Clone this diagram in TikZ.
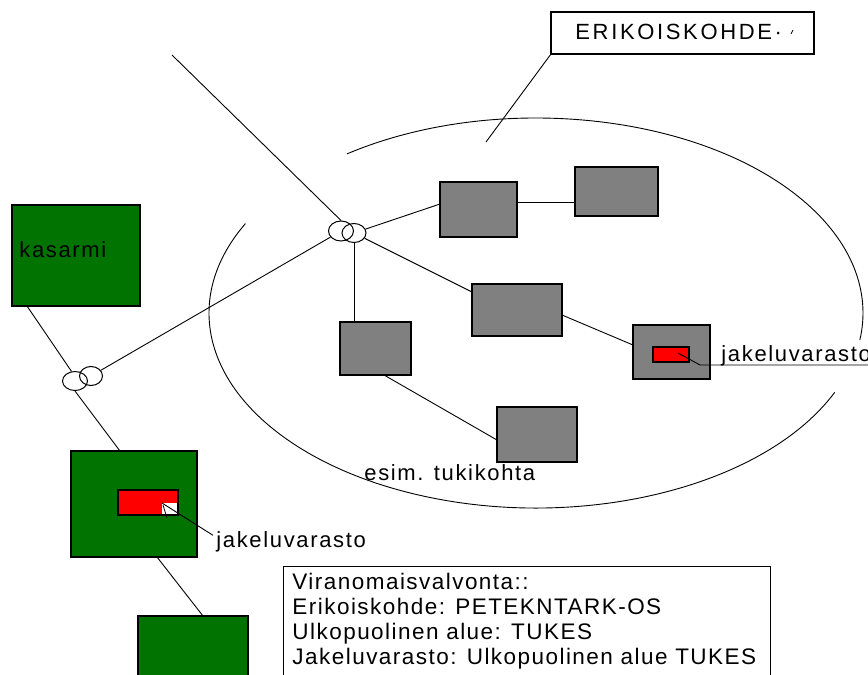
\documentclass[tikz,border=0pt]{standalone}
\usepackage{fontspec}
\setmainfont{Liberation Sans}
\newfontfamily\lsA{Liberation Sans}[LetterSpace=7.5]
\newfontfamily\lsB{Liberation Sans}[LetterSpace=6.5]
\newfontfamily\lsC{Liberation Sans}[LetterSpace=12]
\usetikzlibrary{calc,shapes.geometric}
\definecolor{grn}{RGB}{0,115,0}
\definecolor{gry}{RGB}{128,128,128}
\begin{document}
\begin{tikzpicture}[x=1pt,y=-1pt,line width=0.9pt,
  box/.style={draw=black,inner sep=0pt,outer sep=0pt,anchor=north west,line width=1.2pt},
  grnbox/.style={box,fill=grn},
  grybox/.style={box,fill=gry},
  redbox/.style={box,fill=red},
  hub/.style={draw=black,ellipse,inner sep=0pt,line width=1pt},
  lbl/.style={inner sep=0pt,anchor=base west,font=\lsA\fontsize{22}{25}\selectfont},
  txt/.style={inner sep=0pt,anchor=base west,font=\lsB\fontsize{22.5}{25}\selectfont}]
\useasboundingbox (0,0) rectangle (868,675);
% ellipse
\draw (536,313) ++(234.7:327 and 195) arc[start angle=234.7,end angle=368,x radius=327,y radius=195];
\draw (536,313) ++(24:327 and 195) arc[start angle=24,end angle=207.3,x radius=327,y radius=195];
% top label
\node[box,minimum width=263pt,minimum height=42pt] (erik) at (551,12) {};
\node[lbl,font=\lsC\fontsize{22}{25}\selectfont] (erikt) at (575,39) {ERIKOISKOHDE·};
\draw[line width=0.8pt] (791,34) -- (793,30);
\coordinate (epoint) at (486,142);
\draw (erik.south west) -- (epoint);
% kasarmi
\node[grnbox,minimum width=128pt,minimum height=101pt] (kas) at (12,205) {};
\node[lbl] (kast) at (19,257) {kasarmi};
% hubs
\node[hub,minimum width=25pt,minimum height=19pt] (c1) at (75,381) {};
\node[hub,minimum width=23pt,minimum height=19pt] (c2) at (91,376) {};
\node[hub,minimum width=25pt,minimum height=20pt] (h1) at (341,231) {};
\node[hub,minimum width=24pt,minimum height=19pt] (h2) at (354,233) {};
\coordinate (topend) at (172,55);
% gray boxes
\node[grybox,minimum width=77pt,minimum height=55pt] (A) at (440,182) {};
\node[grybox,minimum width=83pt,minimum height=49pt] (B) at (575,167) {};
\node[grybox,minimum width=90pt,minimum height=52pt] (C) at (472,284) {};
\node[grybox,minimum width=71pt,minimum height=53pt] (D) at (340,322) {};
\node[grybox,line width=2.4pt,minimum width=80pt,minimum height=55pt] (E) at (497,407) {};
\node[grybox,minimum width=77pt,minimum height=54pt] (F) at (633,325) {};
\node[redbox,minimum width=36pt,minimum height=15pt] (Fr) at (653,347) {};
% green boxes
\node[grnbox,minimum width=126pt,minimum height=106pt] (g2) at (71,451) {};
\node[redbox,minimum width=60pt,minimum height=25pt] (g2r) at (118,490) {};
\node[box,fill=white,line width=0pt,draw=none,minimum width=15pt,minimum height=11pt] (g2w) at (162,503) {};
\node[grnbox,minimum width=110pt,minimum height=80pt] (g3) at (138,616) {};
% connectors
\draw (topend) -- (h1.north);
\draw (h1) -- (c2);
\draw ($(kas.south west)+(15,0)$) -- (c1.110);
\draw (c1.south) -- ($(g2.north west)+(49,0)$);
\draw ($(g2.south west)+(86,0)$) -- ($(g3.north west)+(65,0)$);
\draw (h2) -- ($(A.north west)+(0,22)$);
\draw (h2) -- ($(C.north west)+(0,8)$);
\draw (h2.south) -- (h2.south |- D.north);
\draw ($(A.north east)+(0,20)$) -- ($(B.north west)+(0,35)$);
\draw ($(C.north east)+(0,31)$) -- ($(F.north west)+(0,20)$);
\draw ($(D.south west)+(44,0)$) -- ($(E.north west)+(0,33)$);
% labels
\node[lbl,fill=white,inner ysep=3pt] (jr) at (721,361) {jakeluvarasto};
\coordinate (jrend) at (868,365);
\draw ($(Fr.north west)+(25,6)$) -- (700,365) -- (jrend);
\node[lbl] (jl) at (216,547) {jakeluvarasto};
\draw (jl.west) ++(-3,-6) coordinate (jlp) -- (g2w.north west);
\draw[line width=0.8pt] (g2w.north west) ++(1,2) -- ++(4,13);
\node[lbl] (esim) at (364,480) {esim. tukikohta};
% authority box
\node[box,line width=1pt,minimum width=487pt,minimum height=115pt] (auth) at (283,566) {};
\node[txt] (l1) at (292,589) {Viranomaisvalvonta::};
\node[txt] (l2) at (292,614) {Erikoiskohde: PETEKNTARK-OS};
\node[txt] (l3) at (292,639) {Ulkopuolinen alue: TUKES};
\node[txt] (l4) at (292,664) {Jakeluvarasto: Ulkopuolinen alue TUKES};
\end{tikzpicture}
\end{document}
